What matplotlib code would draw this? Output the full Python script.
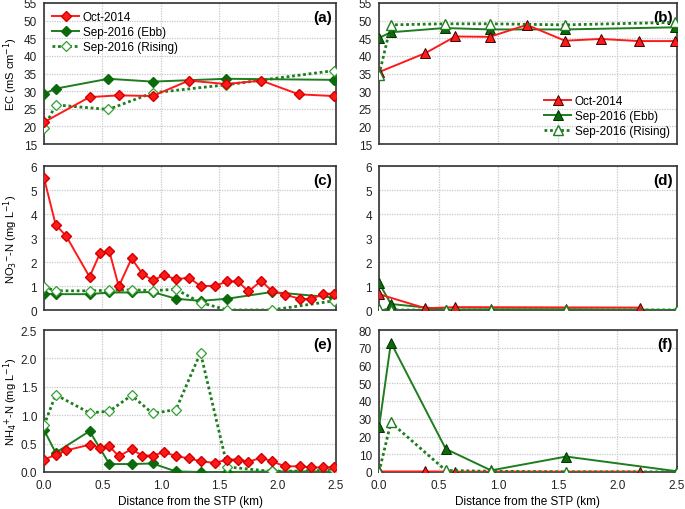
import matplotlib
matplotlib.use("Agg")
import matplotlib.pyplot as plt
from matplotlib.ticker import FormatStrFormatter, MultipleLocator

plt.rcParams['font.family'] = ['Liberation Sans', 'DejaVu Sans']

# ---------------- data ----------------
# EC (mS/cm) - left column (a)
ec_oct_x = [0.0, 0.39, 0.64, 0.93, 1.24, 1.56, 1.86, 2.18, 2.48]
ec_oct_a = [21.2, 28.3, 28.8, 28.6, 33.0, 32.0, 33.0, 29.1, 28.6]
ec_sep_x = [0.0, 0.10, 0.55, 0.93, 1.56, 2.48]
ec_ebb_a = [29.2, 30.7, 33.5, 32.7, 33.5, 33.2]
ec_ris_a = [19.5, 26.1, 24.8, 29.5, 31.8, 35.8]
# EC (mS/cm) - right column (b)
ec_oct_b = [35.4, 40.8, 45.5, 45.4, 48.8, 44.3, 44.8, 44.2, 44.2]
ec_ebb_b = [45.1, 46.7, 47.9, 47.5, 47.5, 48.1]
ec_ris_b = [34.6, 48.8, 49.1, 49.1, 48.8, 49.5]

# Nutrients - left column (c, e)
nut_oct_x = [0.0, 0.10, 0.19, 0.39, 0.48, 0.56, 0.64, 0.75, 0.84, 0.93, 1.03, 1.13,
             1.24, 1.34, 1.46, 1.57, 1.66, 1.75, 1.86, 1.95, 2.06, 2.19, 2.29, 2.39, 2.48]
no3_oct_c = [5.50, 3.55, 3.08, 1.38, 2.37, 2.44, 0.98, 2.15, 1.52, 1.24, 1.45, 1.28,
             1.35, 1.00, 1.00, 1.19, 1.19, 0.78, 1.21, 0.80, 0.64, 0.47, 0.45, 0.68, 0.68]
nh4_oct_e = [0.22, 0.30, 0.38, 0.48, 0.43, 0.45, 0.28, 0.40, 0.29, 0.29, 0.35, 0.28,
             0.24, 0.19, 0.16, 0.22, 0.22, 0.18, 0.25, 0.19, 0.10, 0.10, 0.08, 0.08, 0.08]
nut_sep_x = [0.0, 0.10, 0.39, 0.56, 0.75, 0.93, 1.13, 1.34, 1.57, 1.95, 2.48]
no3_ebb_c = [0.68, 0.66, 0.66, 0.73, 0.73, 0.75, 0.47, 0.38, 0.47, 0.75, 0.52]
no3_ris_c = [0.96, 0.80, 0.80, 0.82, 0.84, 0.81, 0.86, 0.31, 0.00, 0.00, 0.38]
nh4_ebb_e = [0.74, 0.34, 0.72, 0.14, 0.14, 0.15, 0.01, 0.00, 0.00, 0.01, 0.01]
nh4_ris_e = [0.82, 1.36, 1.04, 1.07, 1.35, 1.03, 1.10, 2.10, 0.09, 0.01, 0.03]

# Nutrients - right column (d, f)
rn_oct_x = [0.0, 0.39, 0.64, 2.19]
no3_oct_d = [0.66, 0.07, 0.12, 0.10]
nh4_oct_f = [0.3, 0.3, 0.2, 0.2]
rn_sep_x = [0.0, 0.10, 0.56, 0.94, 1.57, 2.50]
no3_ebb_d = [1.13, 0.25, 0.02, 0.03, 0.03, 0.00]
no3_ris_d = [0.03, 0.00, 0.00, 0.00, 0.00, 0.00]
nh4_ebb_f = [25.1, 72.9, 13.0, 0.9, 8.7, 0.4]
nh4_ris_f = [0.0, 27.9, 0.9, 0.4, 0.1, 0.1]

labels = ['Oct-2014', 'Sep-2016 (Ebb)', 'Sep-2016 (Rising)']
xticks = [0.0, 0.5, 1.0, 1.5, 2.0, 2.5]

RED = '#ff1a1a'
GREEN = '#1e7d1e'
DKGREEN = '#0c6a0c'
LTGREEN = '#33a033'

fig = plt.figure(figsize=(6.85, 5.1), dpi=100)
W = 685.0
H = 510.0
cols = [(44, 336), (379, 677)]
rows = [(4, 145), (167, 311), (331, 473)]
axes = {}
names = [['a', 'b'], ['c', 'd'], ['e', 'f']]
for r, (t, b) in enumerate(rows):
    for c, (l, rr) in enumerate(cols):
        ax = fig.add_axes([l / W, 1 - b / H, (rr - l) / W, (b - t) / H])
        axes[names[r][c]] = ax


def style(ax, ylim, ystep, fmt, letter, bottom):
    ax.set_xlim(0, 2.5)
    ax.set_ylim(*ylim)
    ax.set_xticks(xticks)
    ax.yaxis.set_major_locator(MultipleLocator(ystep))
    ax.yaxis.set_major_formatter(FormatStrFormatter(fmt))
    ax.xaxis.set_major_formatter(FormatStrFormatter('%.1f'))
    ax.grid(True, color='#c8c8c8', linestyle=(0, (1, 1)), linewidth=0.9)
    ax.set_axisbelow(True)
    ax.tick_params(length=0, labelsize=8.5, colors='#222222')
    ax.tick_params(axis='y', pad=5)
    ax.tick_params(axis='x', pad=5)
    if not bottom:
        ax.tick_params(labelbottom=False)
    for s in ax.spines.values():
        s.set_color('#333333')
        s.set_linewidth(1.2)
    ax.text(0.985, 0.95, '(' + letter + ')', transform=ax.transAxes, ha='right', va='top',
            fontsize=11, fontweight='bold')


def left_series(ax, xo, yo, xs, ye, yr):
    ax.plot(xo, yo, color=RED, lw=1.4, marker='D', ms=5.5, mfc=RED, mec='#d00000',
            label=labels[0], zorder=4)
    ax.plot(xs, ye, color=GREEN, lw=1.4, marker='D', ms=5.5, mfc=DKGREEN, mec=DKGREEN,
            label=labels[1], zorder=3)
    ax.plot(xs, yr, color=GREEN, lw=2.0, ls=(0, (1, 1)), marker='D', ms=5.5, mfc='white',
            mec=LTGREEN, mew=0.9, label=labels[2], zorder=3)


def right_series(ax, xo, yo, xs, ye, yr):
    ax.plot(xo, yo, color=RED, lw=1.4, marker='^', ms=7, mfc=RED, mec='#400000', mew=0.7,
            label=labels[0], zorder=4)
    ax.plot(xs, ye, color=GREEN, lw=1.4, marker='^', ms=7, mfc=DKGREEN, mec='#003000', mew=0.7,
            label=labels[1], zorder=3)
    ax.plot(xs, yr, color=GREEN, lw=2.0, ls=(0, (1, 1)), marker='^', ms=7, mfc='white',
            mec=GREEN, mew=1.0, label=labels[2], zorder=5)


left_series(axes['a'], ec_oct_x, ec_oct_a, ec_sep_x, ec_ebb_a, ec_ris_a)
right_series(axes['b'], ec_oct_x, ec_oct_b, ec_sep_x, ec_ebb_b, ec_ris_b)
left_series(axes['c'], nut_oct_x, no3_oct_c, nut_sep_x, no3_ebb_c, no3_ris_c)
right_series(axes['d'], rn_oct_x, no3_oct_d, rn_sep_x, no3_ebb_d, no3_ris_d)
left_series(axes['e'], nut_oct_x, nh4_oct_e, nut_sep_x, nh4_ebb_e, nh4_ris_e)
right_series(axes['f'], rn_oct_x, nh4_oct_f, rn_sep_x, nh4_ebb_f, nh4_ris_f)

style(axes['a'], (15, 55), 5, '%d', 'a', False)
style(axes['b'], (15, 55), 5, '%d', 'b', False)
style(axes['c'], (0, 6), 1, '%d', 'c', False)
style(axes['d'], (0, 6), 1, '%d', 'd', False)
style(axes['e'], (0, 2.5), 0.5, '%.1f', 'e', True)
style(axes['f'], (0, 80), 10, '%d', 'f', True)

axes['a'].set_ylabel('EC (mS cm$^{-1}$)', fontsize=8)
axes['c'].set_ylabel('NO$_3$$^{-}$-N (mg L$^{-1}$)', fontsize=8)
axes['e'].set_ylabel('NH$_4$$^{+}$-N (mg L$^{-1}$)', fontsize=8)
for k in ('a', 'c', 'e'):
    axes[k].yaxis.set_label_coords(-0.082, 0.5)
axes['e'].set_xlabel('Distance from the STP (km)', fontsize=8.5, labelpad=3)
axes['f'].set_xlabel('Distance from the STP (km)', fontsize=8.5, labelpad=3)

axes['a'].legend(loc='upper left', frameon=False, fontsize=8.5, handlelength=2.3,
                 handletextpad=0.3, bbox_to_anchor=(0.0, 1.0), borderaxespad=0.3,
                 labelspacing=0.25)
axes['b'].legend(loc='lower right', frameon=False, fontsize=8.5, handlelength=2.3,
                 handletextpad=0.3, bbox_to_anchor=(1.0, 0.0), borderaxespad=0.2,
                 labelspacing=0.25)

fig.savefig('out.png', dpi=100)
